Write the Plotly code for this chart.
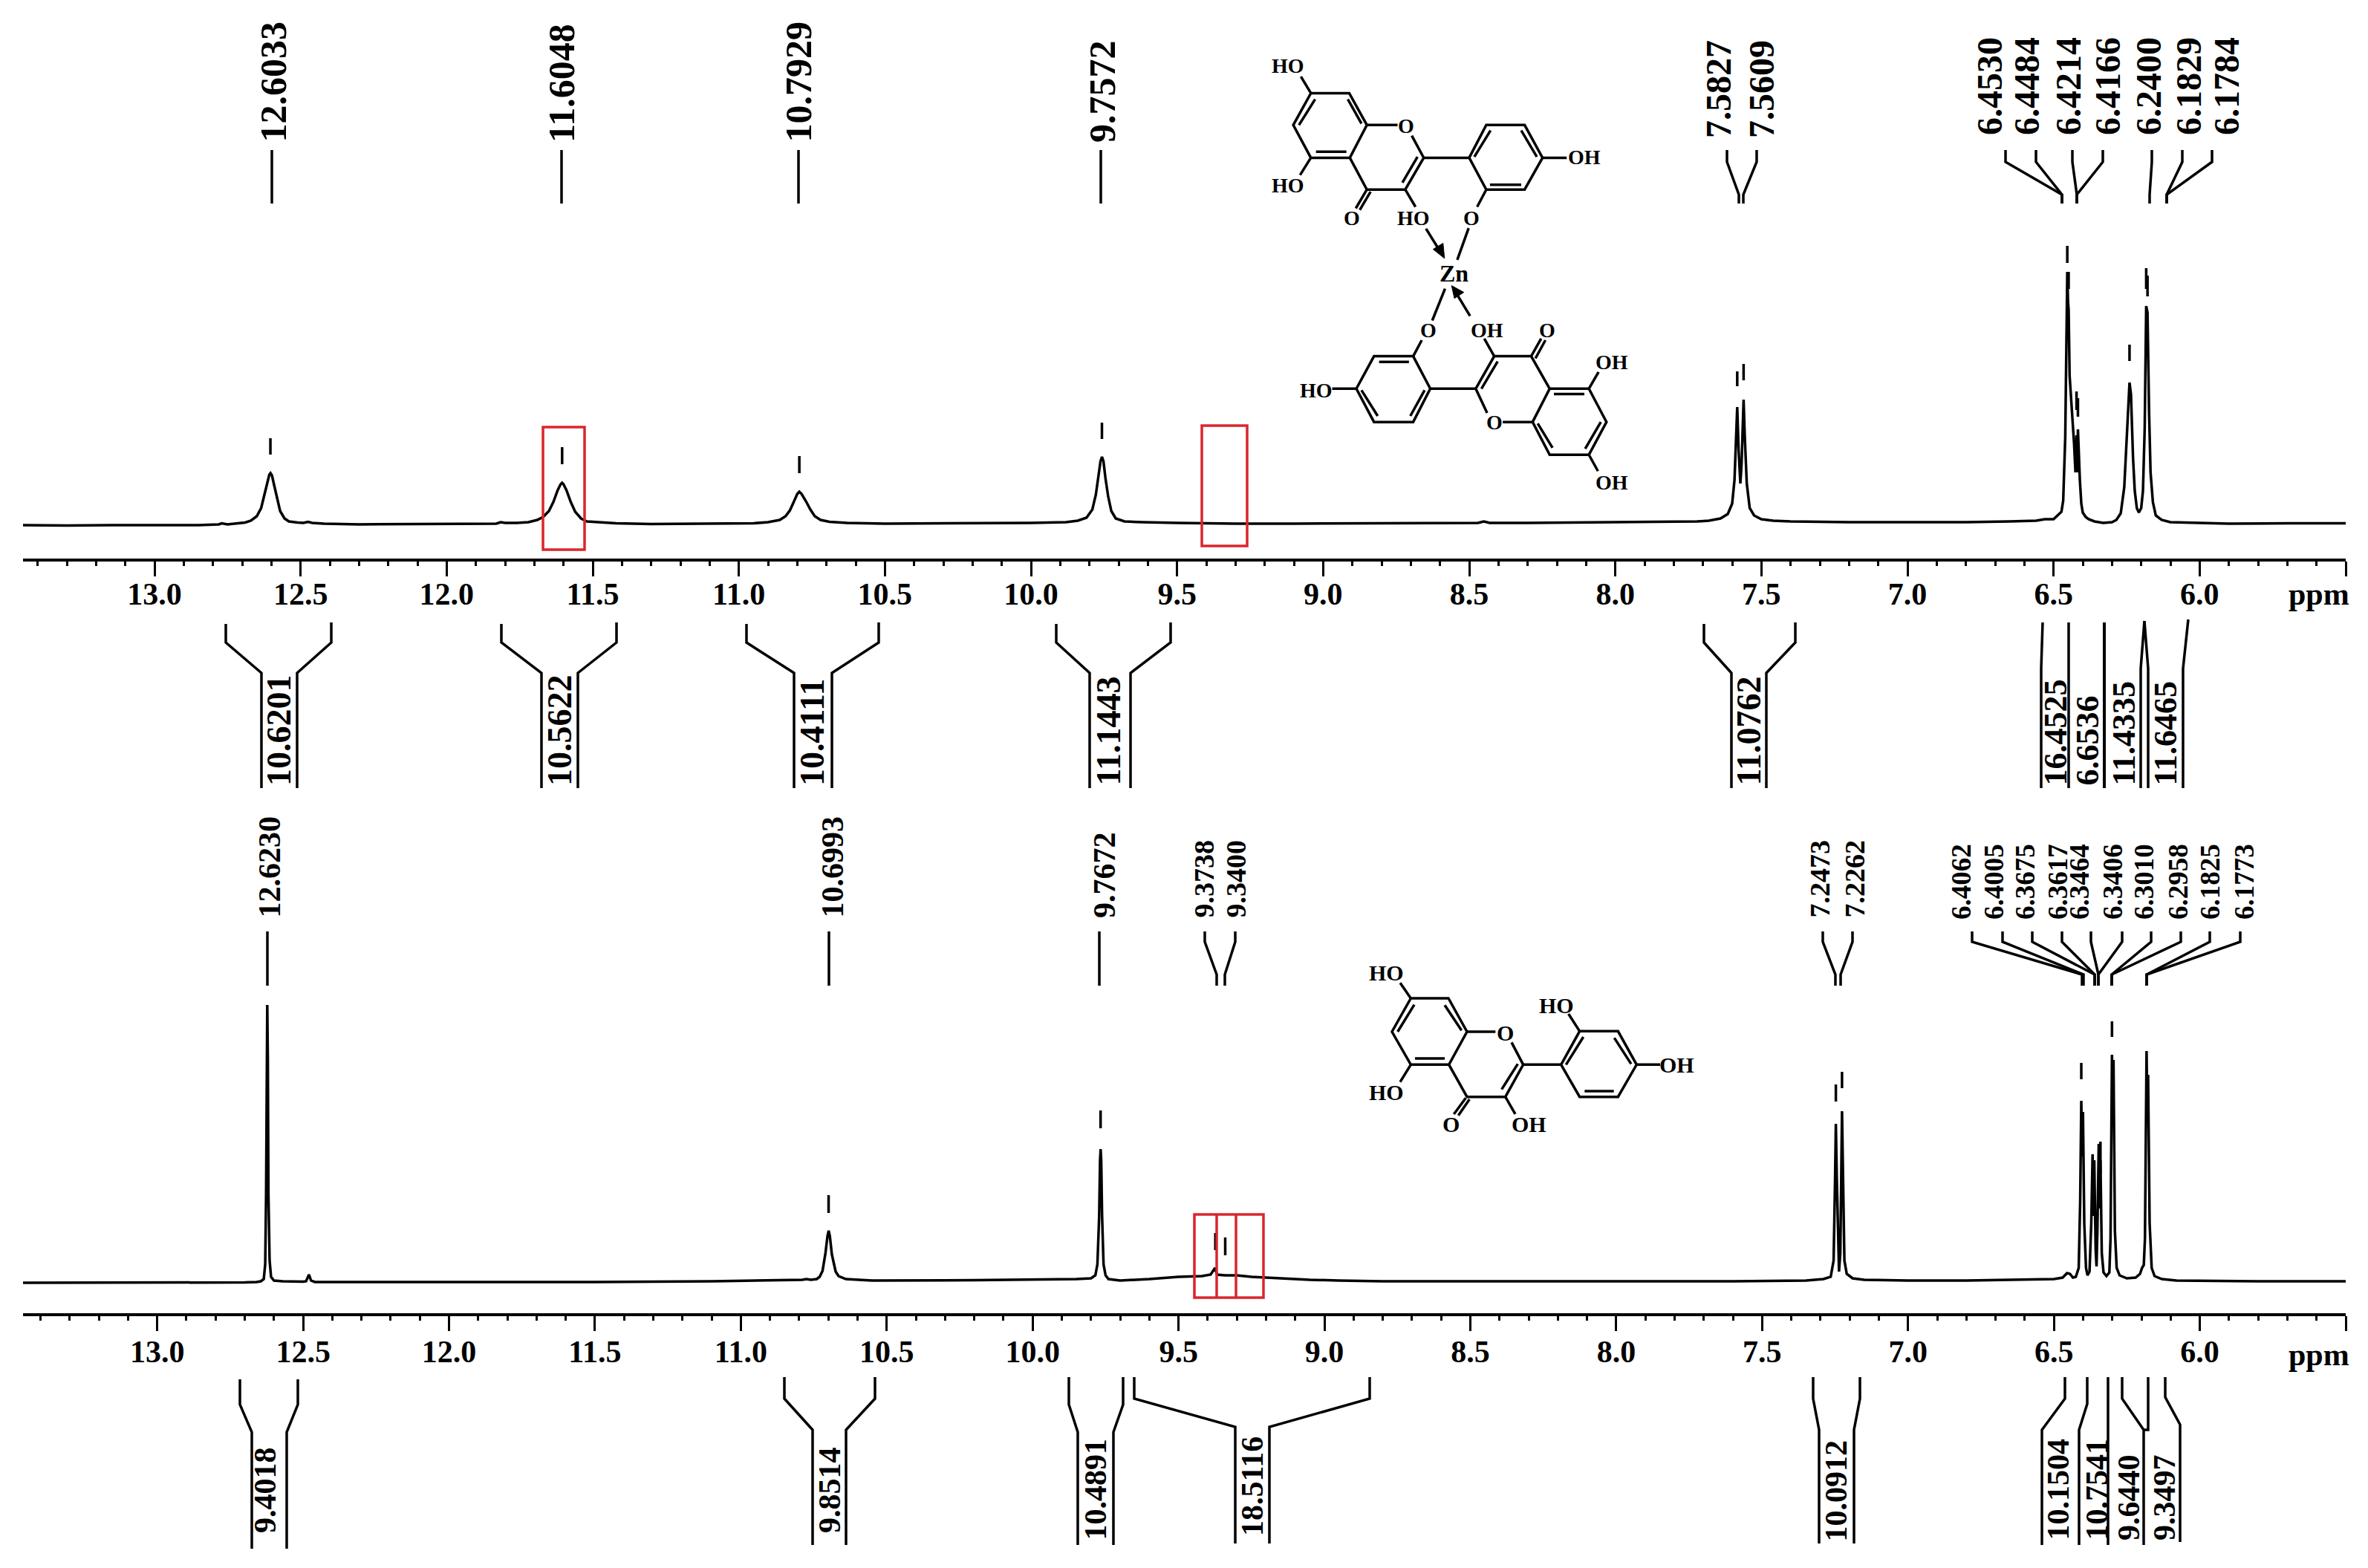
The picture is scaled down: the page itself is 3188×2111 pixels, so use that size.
import plotly.graph_objects as go

W, H = 3188, 2111

# ---------- spectrum data (ppm, intensity) ----------
top_ppm = [13.45,13.3,13.15,13.0,12.85,12.78,12.77,12.75,12.72,12.69,12.67,12.65,12.635,12.625,12.615,12.607,12.603,12.598,12.59,12.58,12.57,12.555,12.54,12.51,12.49,12.475,12.46,12.42,12.3,12.1,11.95,11.83,11.815,11.80,11.76,11.72,11.69,11.67,11.65,11.635,11.62,11.61,11.605,11.6,11.59,11.575,11.56,11.54,11.52,11.48,11.42,11.3,11.1,10.95,10.9,10.86,10.84,10.825,10.81,10.80,10.793,10.785,10.77,10.755,10.74,10.72,10.69,10.63,10.5,10.2,10.0,9.88,9.84,9.81,9.79,9.778,9.77,9.762,9.757,9.752,9.745,9.736,9.725,9.71,9.68,9.62,9.5,9.3,9.1,8.9,8.6,8.47,8.45,8.43,8.3,8.0,7.8,7.72,7.68,7.64,7.615,7.60,7.592,7.586,7.5827,7.578,7.575,7.572,7.568,7.564,7.5609,7.557,7.55,7.54,7.525,7.50,7.46,7.40,7.2,7.0,6.8,6.65,6.56,6.53,6.5,6.473,6.467,6.46,6.457,6.453,6.4505,6.4484,6.445,6.44,6.435,6.43,6.425,6.4214,6.419,6.4166,6.41,6.405,6.40,6.39,6.38,6.36,6.33,6.30,6.285,6.27,6.258,6.25,6.243,6.24,6.235,6.228,6.222,6.215,6.208,6.2,6.194,6.188,6.1829,6.1784,6.173,6.168,6.16,6.15,6.13,6.1,6.05,6.0,5.9,5.7,5.5]
top_int = [-1,-1.5,-1,-1,-1,0,1.5,0,1,2.5,5,11,22,38,56,67,69,66,52,33,18,8,4,2.5,2,3.5,2,1,0,0.5,0.5,1,3,2,2,3,6,10,18,30,46,54,56,54,46,30,17,8,4,3,1.5,0.5,1,1.5,3,6,11,19,32,41,44,41,31,20,11,6,3.5,2,1,1.5,2,3,5,9,20,40,62,85,91,85,62,38,18,8,4,3,2,1,1,1.5,1.5,2,4,2,2,3,3,4,5,8,14,28,60,130,158,100,70,55,80,135,168,120,55,22,12,7,5,4,3,3,3,4,5,7,7,17,32,117,243,340,300,289,200,171,150,110,70,120,70,128,60,28,16,10,7,4,2,3,6,15,50,110,175,191,175,90,45,22,16,22,45,130,294,285,150,70,30,12,6,3,2.5,2,1,1.5,1.5]

bot_ppm = [13.46,13.2,12.9,12.7,12.66,12.645,12.635,12.63,12.627,12.625,12.623,12.621,12.619,12.615,12.61,12.6,12.57,12.5,12.49,12.48,12.473,12.46,12.2,11.9,11.5,11.1,10.85,10.79,10.775,10.76,10.74,10.73,10.72,10.71,10.703,10.699,10.695,10.688,10.675,10.665,10.64,10.55,10.2,10.0,9.85,9.8,9.785,9.778,9.772,9.769,9.767,9.765,9.762,9.757,9.75,9.74,9.7,9.6,9.5,9.42,9.39,9.375,9.368,9.34,9.3,9.25,9.15,9.05,8.95,8.8,8.5,8.0,7.6,7.35,7.29,7.265,7.255,7.25,7.2473,7.244,7.238,7.2365,7.232,7.229,7.2262,7.223,7.218,7.21,7.19,7.15,7.0,6.8,6.6,6.5,6.47,6.455,6.445,6.435,6.425,6.415,6.41,6.4062,6.4032,6.4005,6.396,6.39,6.385,6.378,6.372,6.3675,6.3645,6.3617,6.357,6.354,6.351,6.3464,6.3435,6.3406,6.336,6.33,6.32,6.31,6.306,6.3035,6.301,6.2985,6.2958,6.291,6.285,6.275,6.25,6.22,6.205,6.198,6.192,6.188,6.1825,6.18,6.1773,6.172,6.165,6.155,6.13,6.08,6.0,5.8,5.5]
bot_int = [0,0,0.5,0.5,1,2,5,25,120,300,374,300,120,30,8,3,2,1.5,2,11,3,1,1,1,1,2,3,4,5,4,5,8,16,40,63,70,63,38,15,9,5,3,3.5,4,5,6,10,25,90,165,180,165,90,25,10,5,3,5,8,9,11,20,11,10,10,8,6,4,3,2,2,2,2,3,5,8,30,140,214,140,30,15,40,150,231,150,30,12,6,4,3,3,4,5,7,13,12,7,8,20,110,245,170,230,80,20,10,15,80,173,90,165,45,22,70,187,100,165,40,14,9,14,60,200,307,250,300,70,20,10,6,7,12,20,24,60,312,230,280,80,20,9,5,3,2.5,2,2]

top_pick_ppm  = [12.6033,11.6048,10.7929,9.7572,7.5827,7.5609,6.4530,6.4484,6.4214,6.4166,6.2400,6.1829,6.1784]
top_pick_low  = [94,81,69,115,186,194,352,317,154,145,220,317,307]
top_pick_high = [116,104,92,137,206,216,375,340,179,170,242,345,335]
bot_pick_ppm  = [10.6993,9.7672,9.3738,9.3400,7.2473,7.2262,6.4062,6.3406,6.3010]
bot_pick_low  = [94,208,44,37,244,262,274,147,331]
bot_pick_high = [118,232,67,61,267,284,296,190,352]

tick_vals = [13.0,12.5,12.0,11.5,11.0,10.5,10.0,9.5,9.0,8.5,8.0,7.5,7.0,6.5,6.0,5.5]
tick_text = ["13.0","12.5","12.0","11.5","11.0","10.5","10.0","9.5","9.0","8.5","8.0","7.5","7.0","6.5","6.0",""]

# ---------- text labels: peak lists and integrals ----------
top_peak_labels = ["12.6033","11.6048","10.7929","9.7572","7.5827","7.5609","6.4530","6.4484","6.4214","6.4166","6.2400","6.1829","6.1784"]
bot_peak_labels = ["12.6230","10.6993","9.7672","9.3738","9.3400","7.2473","7.2262","6.4062","6.4005","6.3675","6.3617","6.3464","6.3406","6.3010","6.2958","6.1825","6.1773"]
top_integrals = ["10.6201","10.5622","10.4111","11.1443","11.0762","16.4525","6.6536","11.4335","11.6465"]
bot_integrals = ["9.4018","9.8514","10.4891","18.5116","10.0912","10.1504","10.7541","9.6440","9.3497"]

# ---------- layout geometry (page pixels) ----------
AX_L, AX_R = 31, 3158
TOP_AXIS_Y, TOP_BASE_Y = 752, 706
BOT_AXIS_Y, BOT_BASE_Y = 1768, 1727
BOT_PANEL_TOP = 1060

SERIF = "Liberation Serif"
RED = "#d9262c"

def fx(X): return X / W
def fy(Y): return 1 - Y / H

shapes, annots = [], []

def poly(pts, width=3, color="black", close=False, fill=None):
    d = "M " + " L ".join(f"{fx(x):.5f} {fy(y):.5f}" for x, y in pts)
    if close:
        d += " Z"
    s = dict(type="path", xref="paper", yref="paper", path=d, line=dict(color=color, width=width), layer="above")
    if fill:
        s["fillcolor"] = fill
    shapes.append(s)

def text(t, X, Y, size, angle=0, xanchor="center", yanchor="middle"):
    annots.append(dict(text=t, x=fx(X), y=fy(Y), xref="paper", yref="paper", showarrow=False,
                       textangle=angle, xanchor=xanchor, yanchor=yanchor, borderpad=0, borderwidth=0,
                       font=dict(family=SERIF, size=size, color="black", weight="bold")))

# peak-list labels and leaders: (label_x, top_x, bottom_x)
top_leader = [(368,366,366),(756,756,756),(1075,1075,1075),(1484,1482,1482),
              (2314,2325,2341),(2372,2365,2347),
              (2679,2700,2776),(2729,2741,2776),(2785,2790,2796),(2838,2831,2796),
              (2893,2897,2894),(2947,2938,2917),(2998,2978,2917)]
for i, (lab, (lx, tx, bx)) in enumerate(zip(top_peak_labels, top_leader)):
    if i < 4:
        text(lab, lx, 192, 50, -90, yanchor="bottom")
    elif i < 6:
        text(lab, lx, 186, 48, -90, yanchor="bottom")
    else:
        text(lab, lx, 182, 48, -90, yanchor="bottom")
    poly([(tx, 202), (tx, 218), (bx, 262), (bx, 274)], 3.5)

bot_leader = [(362,360,360),(1120,1116,1116),(1487,1480,1480),
              (1620,1622,1638),(1663,1663,1649),
              (2449,2454,2471),(2496,2494,2478),
              (2640,2655,2803),(2684,2696,2805),(2726,2736,2820),(2770,2776,2820),(2799,2815,2825),
              (2844,2857,2825),(2886,2896,2843),(2932,2936,2843),(2975,2975,2890),(3021,3016,2890)]
for i, (lab, (lx, tx, bx)) in enumerate(zip(bot_peak_labels, bot_leader)):
    if i < 3:
        text(lab, lx, 1236, 42, -90, yanchor="bottom")
    elif i < 7:
        text(lab, lx, 1236, 38, -90, yanchor="bottom")
    else:
        text(lab, lx, 1238, 37, -90, yanchor="bottom")
    poly([(tx, 1254), (tx, 1268), (bx, 1312), (bx, 1327)], 3.5)

# integral brackets: label, text x, left lines, right lines
def bracket(xa, xb, ya, yb, yc, yd):
    poly([(xa, ya), (xa, yb), (xb, yc), (xb, yd)], 3.5)

for (xa, xb, xc, xd) in [(304,352,400,446),(675,729,778,830),(1005,1069,1120,1183),(1422,1467,1522,1576),(2294,2331,2378,2417)]:
    bracket(xa, xb, 840, 865, 906, 1061)
    bracket(xd, xc, 838, 865, 906, 1061)
for i, X in enumerate([375,753,1093,1492,2354]):
    text(top_integrals[i], X, 1058, 46, -90, yanchor="bottom")
poly([(2750,838),(2748,900),(2748,1061)], 3.5)
poly([(2785,838),(2785,1061)], 3.5)
poly([(2833,838),(2833,1061)], 4)
poly([(2887,836),(2882,900),(2882,1061)], 3.5)
poly([(2887,836),(2892,900),(2892,1061)], 3.5)
poly([(2946,834),(2939,900),(2939,1061)], 3.5)
for i, X in enumerate([2767,2810,2859,2915]):
    text(top_integrals[5 + i], X, 1058, 44, -90, yanchor="bottom")

for (xa, xb, xc, xd, ya, yb, yc, yd) in [(323,339,386,401,1857,1891,1928,2085),(1056,1094,1139,1178,1854,1883,1925,2080),
                                          (1439,1451,1499,1512,1854,1891,1928,2080),(1527,1663,1709,1844,1854,1883,1921,2078),
                                          (2441,2449,2496,2504,1854,1883,1925,2078)]:
    bracket(xa, xb, ya, yb, yc, yd)
    bracket(xd, xc, ya, yb, yc, yd)
for i, (X, Yb) in enumerate([(357,2064),(1117,2064),(1474,2074),(1686,2068),(2471,2076)]):
    text(bot_integrals[i], X, Yb, 42, -90, yanchor="bottom")
for pts in [[(2780,1854),(2780,1883),(2749,1925),(2749,2080)],
            [(2810,1854),(2810,1890),(2799,1925),(2799,2080)],
            [(2838,1854),(2838,2080)],
            [(2857,1854),(2857,1883),(2886,1925),(2886,2080)],
            [(2892,1854),(2892,1925),(2886,1925)],
            [(2915,1854),(2915,1881),(2935,1918),(2935,2076)]]:
    poly(pts, 3.5)
for i, X in enumerate([2770,2822,2866,2914]):
    text(bot_integrals[5 + i], X, 2074, 42, -90, yanchor="bottom")

text("ppm", 3122, 800, 42)
text("ppm", 3122, 1824, 42)

# red highlight boxes
for x0, x1, y0, y1 in [(731,787,575,740),(1618,1679,573,735),(1608,1701,1635,1747)]:
    poly([(x0,y0),(x1,y0),(x1,y1),(x0,y1)], 3.5, RED, close=True)
poly([(1638,1635),(1638,1747)], 3.5, RED)
poly([(1664,1635),(1664,1747)], 3.5, RED)

# ---------- chemical structures ----------
def S1(x, y): return (1650 + x * 0.3827, 50 + y * 0.408)
def S2(x, y): return (1800 + x / 3, 1270 + y / 3)

mol1 = [
 [(300,185),(435,185),(497,290),(437,398),(300,398),(238,290),(300,185)],
 [(315,205),(258,290)],[(430,205),(478,285)],[(318,378),(425,378)],
 [(497,290),(605,290)],[(655,325),(697,398),(632,503),(497,503),(437,398)],
 [(622,480),(675,395)],[(497,503),(458,565)],[(510,510),(472,570)],
 [(632,503),(668,560)],[(697,398),(857,398)],
 [(857,398),(917,290),(1052,290),(1115,398),(1052,503),(917,503),(857,398)],
 [(875,395),(932,308)],[(1040,308),(1095,395)],[(930,487),(1040,487)],
 [(1115,398),(1200,398)],[(917,503),(885,560)],[(300,185),(265,130)],[(300,398),(262,455)],
 [(705,632),(760,715)],[(855,630),(815,735)],[(772,830),(727,935)],[(860,920),(805,835)],
 [(660,1053),(690,1000)],
 [(660,1053),(522,1053),(460,1160),(522,1270),(660,1270),(720,1160),(660,1053)],
 [(540,1072),(645,1072)],[(478,1165),(535,1250)],[(650,1250),(700,1165)],
 [(375,1160),(460,1160)],[(720,1160),(880,1160)],
 [(920,1240),(880,1160),(945,1053),(1075,1053),(1140,1160),(1080,1270),(975,1270)],
 [(900,1160),(957,1070)],[(945,1053),(910,995)],[(1075,1053),(1110,995)],[(1090,1060),(1125,1000)],
 [(1140,1160),(1278,1160),(1340,1270),(1278,1378),(1140,1378),(1080,1270)],
 [(1155,1178),(1262,1178)],[(1320,1270),(1265,1358)],[(1150,1355),(1098,1275)],
 [(1278,1160),(1312,1105)],[(1278,1378),(1310,1432)],
]
for seg in mol1:
    poly([S1(*p) for p in seg], 3.5)
for head in [[(770,730),(730,700),(765,680)], [(795,820),(805,862),(838,842)]]:
    poly([S1(*p) for p in head], 1, close=True, fill="black")
for t, x, y in [("HO",220,95),("HO",220,490),("O",635,292),("O",445,597),("HO",660,597),("O",865,597),("OH",1262,397),
                ("O",713,967),("OH",920,967),("O",1132,967),("OH",1360,1072),("HO",320,1165),("O",945,1272),("OH",1360,1470)]:
    X, Y = S1(x, y)
    text(t, X, Y, 28)
X, Y = S1(803, 780)
text("Zn", X, Y, 32)

mol2 = [
 [(298,222),(450,222),(525,357),(452,490),(298,490),(222,357),(298,222)],
 [(312,248),(245,357)],[(435,250),(503,352)],[(315,465),(435,465)],
 [(525,357),(640,357)],[(705,400),(752,490),(680,620),(525,620),(452,490)],
 [(665,590),(730,487)],[(520,625),(472,690)],[(535,630),(490,695)],[(680,620),(720,690)],
 [(752,490),(905,490)],
 [(905,490),(980,355),(1135,355),(1210,490),(1135,620),(980,620),(905,490)],
 [(925,490),(995,378)],[(1120,382),(1188,487)],[(1000,597),(1118,597)],
 [(980,355),(935,285)],[(1210,490),(1305,490)],[(298,222),(255,160)],[(298,490),(255,560)],
]
for seg in mol2:
    poly([S2(*p) for p in seg], 3.5)
for t, x, y in [("HO",200,118),("HO",200,600),("O",678,360),("O",460,730),("OH",775,730),("HO",885,250),("OH",1372,490)]:
    X, Y = S2(x, y)
    text(t, X, Y, 30)

# ---------- figure ----------
def picks(ppm, lo, hi):
    xs, ys = [], []
    for p, a, b in zip(ppm, lo, hi):
        xs += [p, p, None]
        ys += [a, b, None]
    return xs, ys

fig = go.Figure()
line = dict(color="black", width=3.5)
fig.add_trace(go.Scatter(x=top_ppm, y=top_int, mode="lines", line=line, xaxis="x", yaxis="y", hoverinfo="skip"))
xs, ys = picks(top_pick_ppm, top_pick_low, top_pick_high)
fig.add_trace(go.Scatter(x=xs, y=ys, mode="lines", line=line, xaxis="x", yaxis="y", hoverinfo="skip"))
fig.add_trace(go.Scatter(x=bot_ppm, y=bot_int, mode="lines", line=line, xaxis="x2", yaxis="y2", hoverinfo="skip"))
xs, ys = picks(bot_pick_ppm, bot_pick_low, bot_pick_high)
fig.add_trace(go.Scatter(x=xs, y=ys, mode="lines", line=line, xaxis="x2", yaxis="y2", hoverinfo="skip"))

axis_common = dict(
    domain=[AX_L / W, AX_R / W], tickmode="array", tickvals=tick_vals, ticktext=tick_text,
    ticks="outside", ticklen=20, tickwidth=3, tickcolor="black", showline=True, linecolor="black", linewidth=4,
    showgrid=False, zeroline=False,
    tickfont=dict(family=SERIF, size=42, color="black", weight="bold"),
    minor=dict(ticks="outside", ticklen=6, tickwidth=3, tickcolor="black", dtick=0.1, tick0=5.5, showgrid=False),
)
fig.update_layout(
    width=W, height=H, autosize=False, margin=dict(l=0, r=0, t=0, b=0), showlegend=False,
    paper_bgcolor="white", plot_bgcolor="rgba(0,0,0,0)",
    xaxis=dict(axis_common, range=[13.45, 5.5], anchor="y", ticklabelstandoff=-12),
    xaxis2=dict(axis_common, range=[13.46, 5.5], anchor="y2", ticklabelstandoff=-8),
    yaxis=dict(domain=[fy(TOP_AXIS_Y), 1], range=[TOP_BASE_Y - TOP_AXIS_Y, TOP_BASE_Y], visible=False, anchor="x"),
    yaxis2=dict(domain=[fy(BOT_AXIS_Y), fy(BOT_PANEL_TOP)], range=[BOT_BASE_Y - BOT_AXIS_Y, BOT_BASE_Y - BOT_PANEL_TOP], visible=False, anchor="x2"),
    shapes=shapes, annotations=annots,
)
fig.write_html("out.html", post_script="document.body.style.margin='0';", config={"displayModeBar": False})
